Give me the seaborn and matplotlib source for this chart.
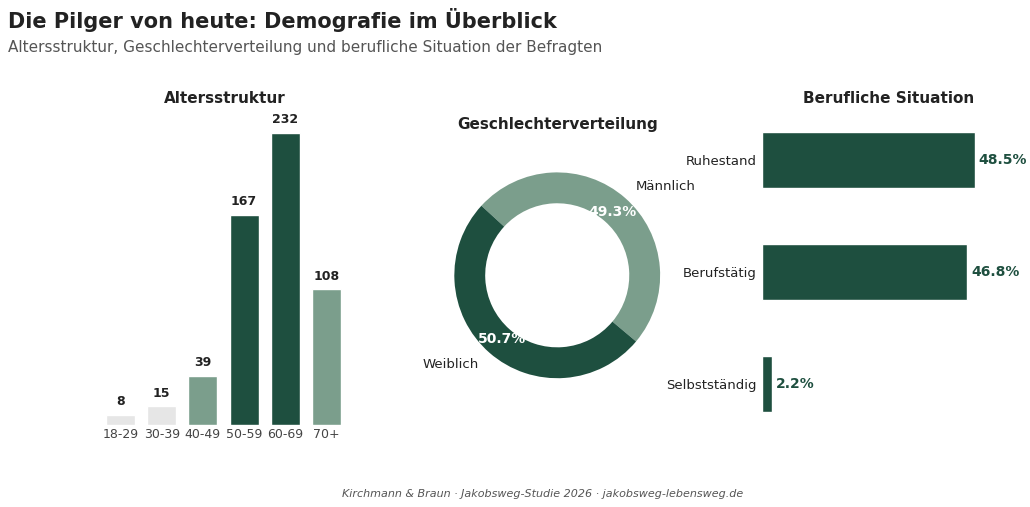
import matplotlib
matplotlib.use("Agg")
import matplotlib.pyplot as plt
import seaborn as sns
import pandas as pd

age_groups = ["18-29", "30-39", "40-49", "50-59", "60-69", "70+"]
age_counts = [8, 15, 39, 167, 232, 108]
gender_labels = ["Männlich", "Weiblich"]
gender_pct = [49.3, 50.7]
job_labels = ["Ruhestand", "Berufstätig", "Selbstständig"]
job_pct = [48.5, 46.8, 2.2]

DARK = "#1e4f3f"
LIGHT = "#7b9e8c"
GREY = "#e6e6e6"
TXT = "#222222"

sns.set_theme(style="white")
plt.rcParams['font.family'] = ['DejaVu Sans']

fig = plt.figure(figsize=(10.30, 5.07), dpi=100)
fig.text(0.008, 0.96, "Die Pilger von heute: Demografie im Überblick", fontsize=15, fontweight="bold", color=TXT, va="center")
fig.text(0.008, 0.907, "Altersstruktur, Geschlechterverteilung und berufliche Situation der Befragten", fontsize=11, color="#555555", va="center")
fig.text(0.527, 0.025, "Kirchmann & Braun · Jakobsweg-Studie 2026 · jakobsweg-lebensweg.de", fontsize=8, style="italic", color="#555555", ha="center", va="center")

# Age
ax1 = fig.add_axes([0.097, 0.162, 0.24, 0.621])
age_colors = [GREY, GREY, LIGHT, DARK, DARK, LIGHT]
df_age = pd.DataFrame({"g": age_groups, "n": age_counts})
sns.barplot(data=df_age, x="g", y="n", hue="g", palette=age_colors, legend=False, width=0.7, saturation=1, ax=ax1)
ax1.set_ylim(0, 250)
for i, v in enumerate(age_counts):
    ax1.text(i, v + 5, str(v), ha="center", va="bottom", fontsize=9, fontweight="bold", color=TXT)
ax1.set_xlabel(""); ax1.set_ylabel(""); ax1.set_yticks([])
ax1.tick_params(axis="x", length=0, labelsize=9, colors="#444444", pad=2)
sns.despine(ax=ax1, left=True, bottom=True)
fig.text(0.218, 0.806, "Altersstruktur", fontsize=11, fontweight="bold", color=TXT, ha="center", va="center")

# Gender donut
ax2 = fig.add_axes([0.406, 0.183, 0.27, 0.548])
wedges, texts, autotexts = ax2.pie(gender_pct, labels=gender_labels, colors=[LIGHT, DARK], startangle=-40,
        counterclock=True, autopct="%.1f%%", pctdistance=0.82, labeldistance=1.15,
        wedgeprops=dict(width=0.3, edgecolor="white", linewidth=0),
        textprops=dict(fontsize=9.5, color=TXT))
for t in autotexts:
    t.set_color("white"); t.set_fontweight("bold"); t.set_fontsize(10)
ax2.set_xlim(-1.35, 1.35); ax2.set_ylim(-1.35, 1.35); ax2.set_aspect("equal")
fig.text(0.541, 0.755, "Geschlechterverteilung", fontsize=11, fontweight="bold", color=TXT, ha="center", va="center")

# Jobs
ax3 = fig.add_axes([0.74, 0.132, 0.234, 0.663])
df_job = pd.DataFrame({"s": job_labels, "p": job_pct})
sns.barplot(data=df_job, y="s", x="p", color=DARK, orient="h", width=0.5, saturation=1, ax=ax3)
ax3.set_xlim(0, 55); ax3.set_ylim(2.5, -0.5)
for i, v in enumerate(job_pct):
    ax3.text(v + 0.9, i, f"{v}%", va="center", ha="left", fontsize=10, fontweight="bold", color=DARK)
ax3.set_xlabel(""); ax3.set_ylabel(""); ax3.set_xticks([])
ax3.tick_params(axis="y", length=0, labelsize=9.5, colors=TXT, pad=4)
sns.despine(ax=ax3, left=True, bottom=True)
fig.text(0.863, 0.806, "Berufliche Situation", fontsize=11, fontweight="bold", color=TXT, ha="center", va="center")

fig.savefig("out.png", dpi=100, facecolor="white")
